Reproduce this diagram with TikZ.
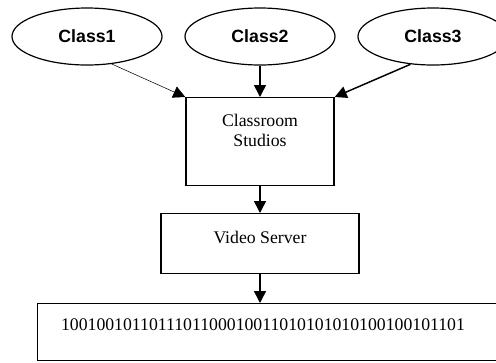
\documentclass[tikz,border=0pt]{standalone}
\usepackage{fontspec}
\setmainfont{Liberation Serif}
\newfontfamily\classfont{Liberation Sans}
\usetikzlibrary{shapes.geometric,arrows.meta,positioning}

\begin{document}
\begin{tikzpicture}[x=0.75pt, y=-0.75pt,
  classnode/.style={draw, ellipse, line width=0.9pt, minimum width=112.5pt, minimum height=42.75pt, inner sep=0pt, font=\classfont\bfseries\fontsize{13.3}{16}\selectfont},
  boxnode/.style={draw, rectangle, line width=1.1pt, inner sep=0pt},
  txt/.style={font=\fontsize{13.3}{15}\selectfont, align=center},
  arr/.style={line width=1.1pt, -{Triangle[length=9pt, width=9pt]}}]
\useasboundingbox (0,0) rectangle (496,362);
\clip (0,0) rectangle (496,362);

\node[classnode] (class1) at (87,36.5) {Class1};
\node[classnode] (class2) at (260,36.5) {Class2};
\node[classnode] (class3) at (433,36.5) {Class3};

\node[boxnode, minimum width=111pt, minimum height=66pt, anchor=north] (studio) at (260,97) {};
\node[txt] (studiotxt) at (260,130) {Classroom\\Studios};

\node[boxnode, minimum width=148.5pt, minimum height=45pt, anchor=north] (server) at (260,213) {};
\node[txt] (servertxt) at (260,237) {Video Server};

\node[boxnode, minimum width=354.75pt, minimum height=42.75pt, anchor=north west] (bits) at (37,303) {};
\node[txt] (bitstxt) at (263,325) {1001001011011101100010011010101010100100101101};

\draw[arr, line width=0.4pt] (class1.-48) -- (studio.north west);
\draw[arr] (class2.south) -- (studio.north);
\draw[arr] (class3.-129) -- (studio.north east);
\draw[arr] (studio.south) -- (server.north);
\draw[arr] (server.south) -- (bits.north -| server.south);
\end{tikzpicture}
\end{document}
